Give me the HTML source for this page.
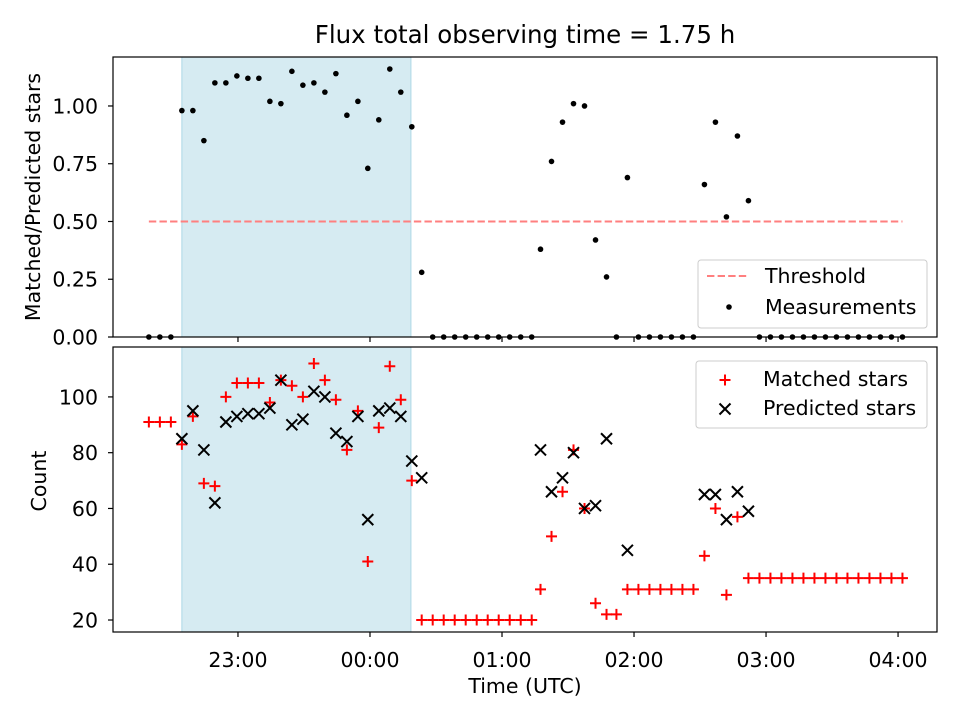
<!DOCTYPE html>
<html><head><meta charset="utf-8"><style>
html,body{margin:0;padding:0;background:#fff;width:960px;height:720px;overflow:hidden}
svg{display:block;font-family:"DejaVu Sans","Liberation Sans",sans-serif}
</style></head><body>
<svg id="chart" width="960" height="720" viewBox="0 0 960 720"></svg>
<script>
// minutes after 22:00 UTC
const times = [19.5,24.5,29.5,34.5,39.5,44.5,49.5,54.5,59.5,64.5,69.5,74.5,79.5,84.5,89.5,94.5,99.5,104.5,109.5,114.5,119,124,129,134,139,143.5,148.5,153.5,158.5,163.5,168.5,173.5,178.5,183.5,188.5,193.5,197.5,202.5,207.5,212.5,217.5,222.5,227.5,232,237,242,247,252,257,262,267,272,277,282,287,292,297,302,307,312,317,322,327,332,337,342,347,352,357,362];
const ratio = [0,0,0,0.98,0.98,0.85,1.10,1.10,1.13,1.12,1.12,1.02,1.01,1.15,1.09,1.10,1.06,1.14,0.96,1.02,0.73,0.94,1.16,1.06,0.91,0.28,0,0,0,0,0,0,0,0,0,0,0.38,0.76,0.93,1.01,1.00,0.42,0.26,0,0.69,0,0,0,0,0,0,0.66,0.93,0.52,0.87,0.59,0,0,0,0,0,0,0,0,0,0,0,0,0,0];
const matched = [91,91,91,83,93,69,68,100,105,105,105,98,106,104,100,112,106,99,81,95,41,89,111,99,70,20,20,20,20,20,20,20,20,20,20,20,31,50,66,81,60,26,22,22,31,31,31,31,31,31,31,43,60,29,57,35,35,35,35,35,35,35,35,35,35,35,35,35,35,35];
const predicted = [null,null,null,85,95,81,62,91,93,94,94,96,106,90,92,102,100,87,84,93,56,95,96,93,77,71,null,null,null,null,null,null,null,null,null,null,81,66,71,80,60,61,85,null,45,null,null,null,null,null,null,65,65,56,66,59,null,null,null,null,null,null,null,null,null,null,null,null,null,null];
const xTickLabels = ["23:00","00:00","01:00","02:00","03:00","04:00"];
const xTickMinutes = [60,120,180,240,300,360];
const topTicks = [0,0.25,0.5,0.75,1.0];
const bottomTicks = [20,40,60,80,100];
const threshold = 0.5;
const shadeRange = [34.5,138.6];

const NS="http://www.w3.org/2000/svg";
const svg=document.getElementById('chart');
function mk(tag,attrs,parent){const e=document.createElementNS(NS,tag);for(const k in attrs)e.setAttribute(k,attrs[k]);(parent||svg).appendChild(e);return e;}
const L=113,R=937;
const FS=20.5;
const xs=m=>L+(m-3.2)*(R-L)/(377.7-3.2);
const T1=57,B1=337; const y1=v=>B1-v*(B1-T1)/1.212;
const T2=347,B2=632; const y2=v=>B2-(v-15.7)*(B2-T2)/(117.9-15.7);

let t=mk('text',{x:525,y:43,'text-anchor':'middle','font-size':24.5});t.textContent='Flux total observing time = 1.75 h';



function panel(T,B,name){
  const g=mk('g',{});
  
  
  const s=mk('rect',{x:xs(shadeRange[0]),y:T,width:xs(shadeRange[1])-xs(shadeRange[0]),height:B-T,fill:'#add8e6','fill-opacity':0.5,stroke:'#add8e6','stroke-width':1},g);
  
  
  return g;
}
function frame(T,B,g){mk('rect',{x:L,y:T,width:R-L,height:B-T,fill:'none',stroke:'#000','stroke-width':1.2},g);
  xTickMinutes.forEach(m=>{mk('line',{x1:xs(m),x2:xs(m),y1:B,y2:B+5,stroke:'#000','stroke-width':1.2},g);});}

// top panel
const g1=panel(T1,B1,'ratio-panel');
const th=mk('line',{x1:xs(times[0]),x2:xs(times[times.length-1]),y1:y1(threshold),y2:y1(threshold),stroke:'#ff7f7f','stroke-width':2,'stroke-dasharray':'7.4,3.2'},g1);


times.forEach((m,i)=>{const c=mk('circle',{cx:xs(m),cy:y1(ratio[i]),r:2.8,fill:'#000'},g1);
  
  });
frame(T1,B1,g1);
topTicks.forEach(v=>{mk('line',{x1:L-5,x2:L,y1:y1(v),y2:y1(v),stroke:'#000','stroke-width':1.2},g1);
  const tx=mk('text',{x:L-15,y:y1(v)+7.5,'text-anchor':'end','font-size':FS},g1);tx.textContent=v.toFixed(2);
  
  });
let yl=mk('text',{x:40,y:197,'text-anchor':'middle','font-size':FS,transform:'rotate(-90 40 197)'});yl.textContent='Matched/Predicted stars';



// legend top
const lg1=mk('g',{});


mk('rect',{x:698,y:260,width:229,height:68,rx:3,fill:'#fff','fill-opacity':0.8,stroke:'#ccc'},lg1);
mk('line',{x1:707,x2:749,y1:276,y2:276,stroke:'#ff7f7f','stroke-width':2,'stroke-dasharray':'7.4,3.2'},lg1);
let lt=mk('text',{x:765,y:283,'font-size':FS},lg1);lt.textContent='Threshold';
mk('circle',{cx:729,cy:307,r:2.8,fill:'#000'},lg1);
lt=mk('text',{x:765,y:314,'font-size':FS},lg1);lt.textContent='Measurements';

// bottom panel
const g2=panel(T2,B2,'count-panel');
function plus(x,y,g){const p=mk('path',{d:`M${x-5.5},${y}H${x+5.5}M${x},${y-5.5}V${y+5.5}`,stroke:'#ff0000','stroke-width':2},g);return p;}
function cross(x,y,g){return mk('path',{d:`M${x-5.5},${y-5.5}L${x+5.5},${y+5.5}M${x-5.5},${y+5.5}L${x+5.5},${y-5.5}`,stroke:'#000','stroke-width':2},g);}
times.forEach((m,i)=>{const p=plus(xs(m),y2(matched[i]),g2);
  
  });
times.forEach((m,i)=>{if(predicted[i]==null)return;const c=cross(xs(m),y2(predicted[i]),g2);
  
  });
frame(T2,B2,g2);
bottomTicks.forEach(v=>{mk('line',{x1:L-5,x2:L,y1:y2(v),y2:y2(v),stroke:'#000','stroke-width':1.2},g2);
  const tx=mk('text',{x:L-15,y:y2(v)+7.5,'text-anchor':'end','font-size':FS},g2);tx.textContent=v;
  
  });
xTickMinutes.forEach((m,i)=>{const tx=mk('text',{x:xs(m),y:667,'text-anchor':'middle','font-size':FS},g2);tx.textContent=xTickLabels[i];
  
  });
yl=mk('text',{x:46,y:481,'text-anchor':'middle','font-size':FS,transform:'rotate(-90 46 481)'});yl.textContent='Count';


let xl=mk('text',{x:525,y:693,'text-anchor':'middle','font-size':FS});xl.textContent='Time (UTC)';



const lg2=mk('g',{});


mk('rect',{x:696,y:361,width:231,height:67,rx:3,fill:'#fff','fill-opacity':0.8,stroke:'#ccc'},lg2);
plus(725,380,lg2);
lt=mk('text',{x:763,y:386,'font-size':FS},lg2);lt.textContent='Matched stars';
cross(725,409,lg2);
lt=mk('text',{x:763,y:415,'font-size':FS},lg2);lt.textContent='Predicted stars';
</script>
</body></html>
